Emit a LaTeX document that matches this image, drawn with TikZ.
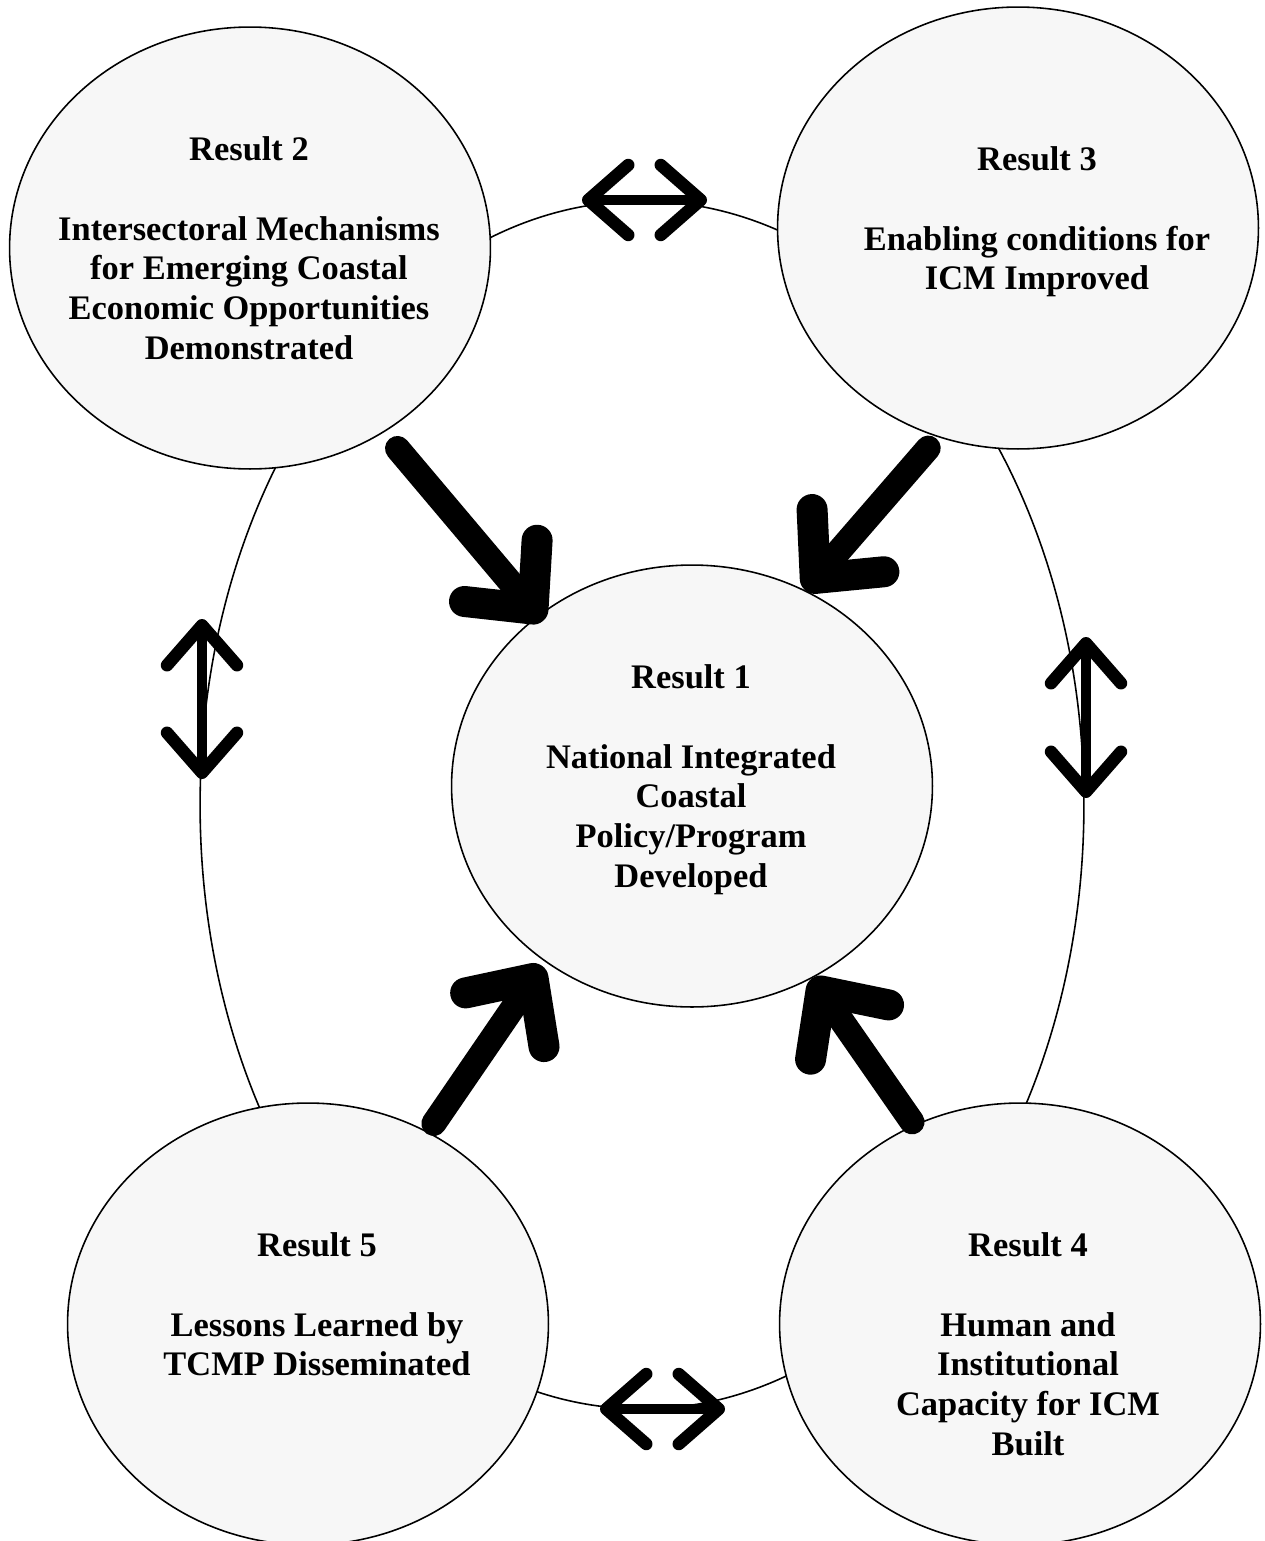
\documentclass[tikz,border=0pt]{standalone}
\usepackage{fontspec}
\setmainfont{Liberation Serif}
\usetikzlibrary{arrows.meta,positioning,shapes.geometric}
\definecolor{resultfill}{HTML}{F7F7F7}
\tikzset{
  result/.style={ellipse, draw, line width=0.9pt, fill=resultfill,
    minimum width=9.62cm, minimum height=8.84cm, inner sep=0pt},
  resulttext/.style={anchor=north, align=center, inner sep=0pt,
    font=\bfseries\fontsize{19.6}{22.7}\selectfont},
  feed/.style={line width=0.5cm, line cap=round,
    -{Straight Barb[length=1.0cm, width=1.9cm, line width=0.62cm, round]}},
  link/.style={line width=0.2cm,
    {Straight Barb[length=0.8cm, width=1.4cm, line width=0.25cm, round]}-{Straight Barb[length=0.8cm, width=1.4cm, line width=0.25cm, round]}},
}

\begin{document}
\begin{tikzpicture}[x=0.02cm, y=-0.02cm]
          \useasboundingbox (0,0) rectangle (1264,1541);

          % outer ring
          \draw[line width=0.9pt] (642,805) ellipse [x radius=8.84cm, y radius=12.08cm];

          % nodes
          \node[result] (r1) at (692,786) {};
          \node[result] (r2) at (250,248) {};
          \node[result] (r3) at (1018,228) {};
          \node[result] (r4) at (1020,1324) {};
          \node[result] (r5) at (308,1324) {};

          \node[resulttext] (r1text) at (691,664) {Result 1\\[22.7pt]National Integrated\\Coastal\\Policy/Program\\Developed};
          \node[resulttext] (r2text) at (249,136) {Result 2\\[22.7pt]Intersectoral Mechanisms\\for Emerging Coastal\\Economic Opportunities\\Demonstrated};
          \node[resulttext] (r3text) at (1037,146) {Result 3\\[22.7pt]Enabling conditions for\\ICM Improved};
          \node[resulttext] (r4text) at (1028,1232) {Result 4\\[22.7pt]Human and\\Institutional\\Capacity for ICM\\Built};
          \node[resulttext] (r5text) at (317,1232) {Result 5\\[22.7pt]Lessons Learned by\\TCMP Disseminated};

          % ends of the small two-way arrows
          \coordinate (link23a) at (582,200);
          \coordinate (link23b) at (707,200);
          \coordinate (link25a) at (202,619);
          \coordinate (link25b) at (202,779);
          \coordinate (link34a) at (1086,637);
          \coordinate (link34b) at (1086,798);
          \coordinate (link45a) at (600,1409);
          \coordinate (link45b) at (725,1409);

          % edges
          \draw[feed, shorten <=0.42cm, shorten >=-0.15cm] (r2.-54) -- (r1.132);
          \draw[feed, shorten <=0.29cm] (r3.-111) -- (r1.60);
          \draw[feed, shorten <=0.2cm, shorten >=0.1cm] (r5.58) -- (r1.-130);
          \draw[feed, shorten <=0.07cm] (r4.118) -- (r1.-58);

          \draw[link] (link23a) -- (link23b);
          \draw[link] (link25a) -- (link25b);
          \draw[link] (link34a) -- (link34b);
          \draw[link] (link45a) -- (link45b);

\end{tikzpicture}
\end{document}
